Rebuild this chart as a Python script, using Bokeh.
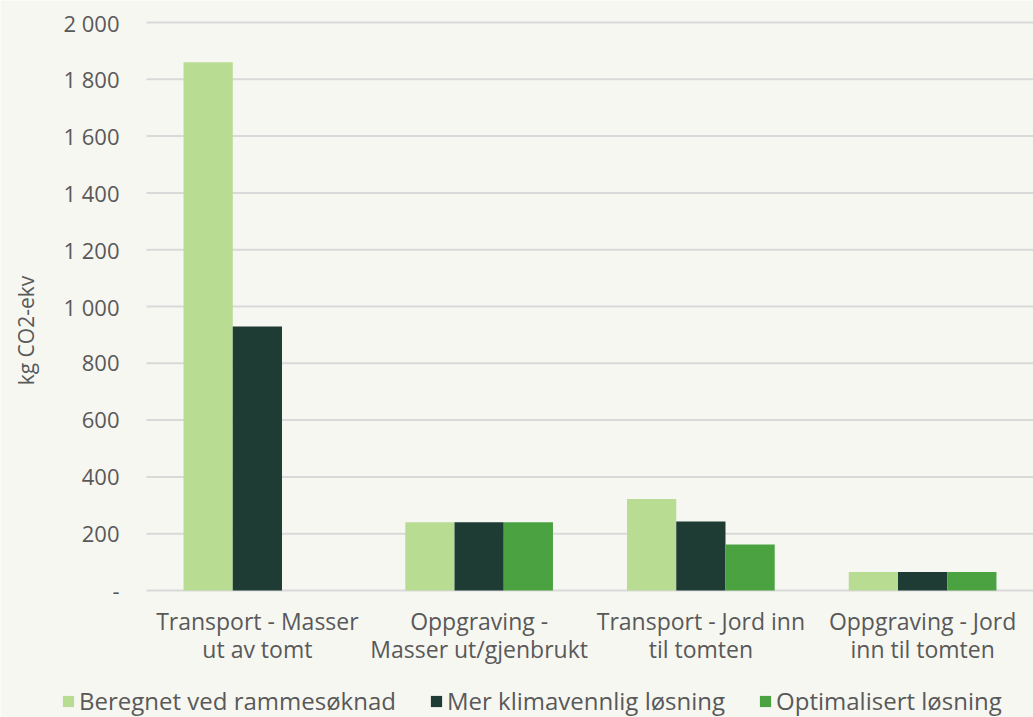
import math
from bokeh.plotting import figure
from bokeh.models import ColumnDataSource, Legend, LegendItem, Label
from bokeh.core.properties import value
from bokeh.embed import file_html
from bokeh.resources import INLINE

categories = ["Transport - Masser\nut av tomt", "Oppgraving -\nMasser ut/gjenbrukt",
              "Transport - Jord inn\ntil tomten", "Oppgraving - Jord\ninn til tomten"]
series_names = ["Beregnet ved rammesøknad", "Mer klimavennlig løsning", "Optimalisert løsning"]
beregnet = [1860, 240, 322, 65]
klimavennlig = [930, 240, 243, 65]
optimalisert = [0, 240, 162, 65]
colors = ["#B8DC91", "#1E3B34", "#4AA340"]
yticks = [0, 200, 400, 600, 800, 1000, 1200, 1400, 1600, 1800, 2000]
ytick_labels = ["-", "200", "400", "600", "800", "1 000", "1 200", "1 400", "1 600", "1 800", "2 000"]
y_title = "kg CO2-ekv"

FONT = "Open Sans"
TXT = "#595959"
BG = "#F7F7F2"
GRID = "#D9D9D9"

W, H = 1033, 717
LEFT, TOP, ZERO_PX = 146, 22, 590           # plot area layout in pixels
YMAX = 2000
ppu = (ZERO_PX - TOP) / YMAX                # pixels per value unit
cat_px = (W - LEFT) / len(categories)       # pixels per category band

x_start = -LEFT / cat_px
y_start = -(H - ZERO_PX) / ppu
y_end = YMAX + TOP / ppu

p = figure(width=W, height=H, x_range=(x_start, len(categories)), y_range=(y_start, y_end),
           output_backend="svg", toolbar_location=None, min_border=0,
           x_axis_location=None, y_axis_location=None,
           background_fill_color=BG, border_fill_color=BG, outline_line_color=None)
p.xgrid.visible = False
p.ygrid.visible = False

centers = [i + 0.5 for i in range(len(categories))]

# grid lines at tick values
p.segment(x0=0, x1=len(categories), y0=yticks, y1=yticks, line_color=GRID, line_width=2)

# bars
series = [beregnet, klimavennlig, optimalisert]
w = 0.222
renderers = []
for k, (col, vals) in enumerate(zip(colors, series)):
    off = (k - 1) * w
    src_k = ColumnDataSource(dict(x=[c + off for c in centers], top=vals))
    r = p.vbar(x="x", top="top", width=w, source=src_k, fill_color=col, line_color=None)
    renderers.append(r)

# y tick labels
p.text(x=[0] * len(yticks), y=yticks, text=ytick_labels, x_offset=-27,
       text_align="right", text_baseline="middle", text_font=value(FONT),
       text_font_size="22px", text_color=TXT)

# category labels (two lines)
line1 = [c.split("\n")[0] for c in categories]
line2 = [c.split("\n")[1] for c in categories]
p.text(x=centers, y=[-30 / ppu] * len(centers), text=line1, text_align="center",
       text_baseline="middle", text_font=value(FONT), text_font_size="23px", text_color=TXT)
p.text(x=centers, y=[-58 / ppu] * len(centers), text=line2, text_align="center",
       text_baseline="middle", text_font=value(FONT), text_font_size="23px", text_color=TXT)

# y axis title
p.add_layout(Label(x=25, y=H - 330, x_units="screen", y_units="screen", text=y_title,
                   angle=math.pi / 2, text_align="center", text_baseline="middle",
                   text_font=FONT, text_font_size="21px", text_color=TXT))

legend = Legend(items=[LegendItem(label=n, renderers=[r]) for n, r in zip(series_names, renderers)],
                orientation="horizontal", location=(61, 0),
                background_fill_alpha=0, border_line_color=None,
                label_text_font=FONT, label_text_font_size="24px", label_text_color=TXT,
                glyph_width=14, glyph_height=14, label_standoff=4, spacing=33,
                margin=0, padding=2)
p.add_layout(legend, "center")

open("out.html", "w").write(file_html(p, INLINE))
